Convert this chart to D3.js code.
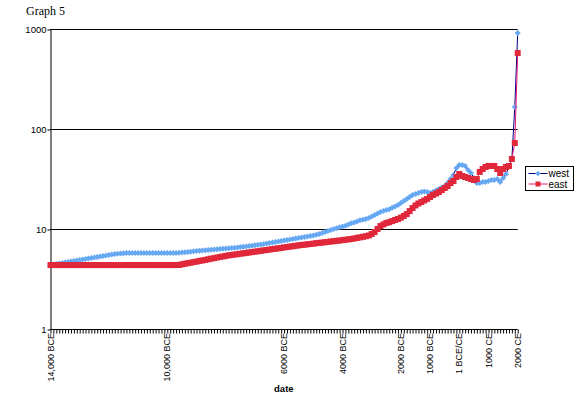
<!DOCTYPE html>
<html>
<head>
<meta charset="utf-8">
<script src="https://cdn.jsdelivr.net/npm/d3@7"></script>
<style>
  body { margin: 0; background: #fff; }
  text { font-family: "Liberation Sans", Arial, sans-serif; }
</style>
</head>
<body>
<div id="chart"></div>
<script>
// categories: one every 100 years, 14,000 BCE .. 2000 CE (0 = "1 BCE/CE")
const dates = d3.range(-14000, 2001, 100);
const labelDates = [-14000, -10000, -6000, -4000, -2000, -1000, 0, 1000, 2000];
const labelTexts = ['14,000 BCE', '10,000 BCE', '6000 BCE', '4000 BCE', '2000 BCE', '1000 BCE', '1 BCE/CE', '1000 CE', '2000 CE'];
const yTicks = [1, 10, 100, 1000];

const west = [
  4.36, 4.42, 4.47, 4.52, 4.57, 4.62, 4.68, 4.73, 4.79, 4.84,
  4.90, 4.95, 5.01, 5.07, 5.13, 5.19, 5.25, 5.31, 5.37, 5.43,
  5.50, 5.56, 5.62, 5.66, 5.70, 5.72, 5.75, 5.75, 5.75, 5.75,
  5.75, 5.75, 5.75, 5.75, 5.75, 5.75, 5.75, 5.75, 5.75, 5.75,
  5.75, 5.75, 5.75, 5.76, 5.78, 5.81, 5.85, 5.89, 5.93, 5.98,
  6.03, 6.06, 6.10, 6.13, 6.17, 6.21, 6.24, 6.28, 6.31, 6.35,
  6.38, 6.42, 6.46, 6.50, 6.55, 6.59, 6.64, 6.68, 6.75, 6.81,
  6.88, 6.95, 7.01, 7.08, 7.16, 7.24, 7.33, 7.41, 7.50, 7.59,
  7.67, 7.76, 7.85, 7.94, 8.04, 8.13, 8.22, 8.32, 8.41, 8.51,
  8.61, 8.75, 8.91, 9.12, 9.33, 9.55, 9.77, 10.0, 10.2, 10.4,
  10.6, 10.8, 11.1, 11.4, 11.6, 11.9, 12.2, 12.4, 12.6, 12.9,
  13.3, 13.8, 14.3, 14.8, 15.1, 15.5, 15.8, 16.3, 16.8, 17.4,
  18.2, 19.1, 20.0, 20.9, 21.9, 22.4, 22.9, 23.4, 23.7, 23.4,
  22.9, 23.4, 24.3, 25.1, 26.0, 26.9, 28.8, 31.6, 34.7, 40.7,
  43.7, 43.7, 42.7, 38.9, 36.3, 32.4, 28.8, 28.8, 29.5, 29.5,
  30.2, 30.9, 30.9, 31.6, 29.5, 32.4, 35.5, 41.7, 50.1, 166,
  912
];

const east = [
  4.36, 4.36, 4.36, 4.36, 4.36, 4.36, 4.36, 4.36, 4.36, 4.36,
  4.36, 4.36, 4.36, 4.36, 4.36, 4.36, 4.36, 4.36, 4.36, 4.36,
  4.36, 4.36, 4.36, 4.36, 4.36, 4.36, 4.36, 4.36, 4.36, 4.36,
  4.36, 4.36, 4.36, 4.36, 4.36, 4.36, 4.36, 4.36, 4.36, 4.36,
  4.36, 4.36, 4.36, 4.36, 4.37, 4.43, 4.49, 4.55, 4.60, 4.67,
  4.72, 4.79, 4.85, 4.91, 4.98, 5.05, 5.11, 5.18, 5.25, 5.31,
  5.38, 5.45, 5.50, 5.55, 5.60, 5.66, 5.71, 5.77, 5.82, 5.88,
  5.93, 5.99, 6.05, 6.11, 6.17, 6.23, 6.29, 6.35, 6.41, 6.47,
  6.54, 6.61, 6.67, 6.73, 6.80, 6.86, 6.92, 6.97, 7.03, 7.08,
  7.14, 7.21, 7.26, 7.31, 7.38, 7.43, 7.50, 7.55, 7.62, 7.67,
  7.74, 7.80, 7.87, 7.94, 8.04, 8.15, 8.24, 8.35, 8.47, 8.61,
  8.91, 9.33, 10.0, 10.7, 11.1, 11.5, 11.7, 12.0, 12.3, 12.6,
  13.0, 13.5, 14.1, 15.1, 16.2, 17.2, 18.0, 18.6, 19.3, 20.0,
  20.9, 21.9, 22.6, 23.4, 24.5, 25.7, 26.9, 28.8, 30.2, 33.1,
  35.5, 33.9, 33.1, 32.4, 31.6, 30.9, 31.6, 37.2, 39.8, 41.7,
  42.7, 42.7, 42.7, 39.8, 36.3, 39.8, 41.7, 42.7, 50.1, 72.4,
  575
];

const series = [
  { name: 'west', values: west, line: '#000080', fill: '#66a8f2', shape: 'diamond' },
  { name: 'east', values: east, line: '#ee1177', fill: '#e0283a', shape: 'square' }
];

const width = 577, height = 395;
const plotLeft = 50, plotRight = 517.7, plotTop = 29, plotBottom = 329;

const svg = d3.select('#chart').append('svg')
  .attr('width', width)
  .attr('height', height);

svg.append('rect')
  .attr('width', width)
  .attr('height', height)
  .attr('fill', '#fff');

const x = d3.scalePoint()
  .domain(dates)
  .range([plotLeft + 0.5, plotRight]);

const y = d3.scaleLog()
  .domain([1, 1000])
  .range([plotBottom, plotTop]);

// title
svg.append('text')
  .attr('x', 26)
  .attr('y', 15)
  .style('font-family', '"Liberation Serif", "Times New Roman", serif')
  .style('font-size', '12px')
  .text('Graph 5');

// gridlines
svg.append('g')
  .selectAll('line')
  .data(yTicks.slice(1))
  .join('line')
  .attr('x1', plotLeft)
  .attr('x2', plotRight)
  .attr('y1', d => Math.round(y(d)) + 0.5)
  .attr('y2', d => Math.round(y(d)) + 0.5)
  .attr('stroke', '#000')
  .attr('stroke-width', 1);

// y axis
const yAxis = svg.append('g')
  .attr('transform', `translate(${plotLeft + 0.5},0.5)`)
  .call(d3.axisLeft(y).tickValues(yTicks).tickFormat(d3.format('d')).tickSize(3).tickSizeOuter(0));
yAxis.select('.domain').attr('stroke', '#000');
yAxis.selectAll('text')
  .style('font-size', '9.5px')
  .style('font-family', '"Liberation Sans", Arial, sans-serif')
  .attr('x', -4);

// x axis: a tick for every category, labels only on a few
const xAxis = svg.append('g')
  .attr('transform', `translate(0,${plotBottom + 0.5})`)
  .call(d3.axisBottom(x).tickFormat('').tickSize(4).tickSizeOuter(0));
xAxis.select('.domain').attr('d', `M${plotLeft},0H${plotRight}`).attr('stroke', '#000');
xAxis.selectAll('.tick line').attr('stroke', '#000');

svg.append('g')
  .selectAll('text')
  .data(labelDates)
  .join('text')
  .attr('transform', d => `translate(${x(d)},${plotBottom + 4}) rotate(-90)`)
  .attr('dy', '0.35em')
  .attr('text-anchor', 'end')
  .style('font-size', '9px')
  .text((d, i) => labelTexts[i]);

svg.append('text')
  .attr('x', (plotLeft + plotRight) / 2)
  .attr('y', 392)
  .attr('text-anchor', 'middle')
  .style('font-size', '9.5px')
  .style('font-weight', 'bold')
  .text('date');

// series
const line = d3.line()
  .x((d, i) => x(dates[i]))
  .y(d => y(d));

const symbols = {
  diamond: d3.symbol(d3.symbolSquare, 18),
  square: d3.symbol(d3.symbolSquare, 36)
};

series.forEach(s => {
  const g = svg.append('g');
  g.append('path')
    .datum(s.values)
    .attr('fill', 'none')
    .attr('stroke', s.line)
    .attr('stroke-width', 1)
    .attr('d', line);
  g.selectAll('path.marker')
    .data(s.values)
    .join('path')
    .attr('class', 'marker')
    .attr('transform', (d, i) => `translate(${x(dates[i])},${y(d)})` + (s.shape === 'diamond' ? ' rotate(45)' : ''))
    .attr('d', symbols[s.shape])
    .attr('fill', s.fill);
});

// legend
const legend = svg.append('g').attr('transform', 'translate(525.5,166.5)');
legend.append('rect')
  .attr('width', 48)
  .attr('height', 24)
  .attr('fill', '#fff')
  .attr('stroke', '#000');

const item = legend.selectAll('g.item')
  .data(series)
  .join('g')
  .attr('class', 'item')
  .attr('transform', (d, i) => `translate(0,${7 + i * 10.5})`);
item.append('line')
  .attr('x1', 3)
  .attr('x2', 22)
  .attr('stroke', d => d.line);
item.append('path')
  .attr('transform', d => 'translate(12.5,0)' + (d.shape === 'diamond' ? ' rotate(45)' : ''))
  .attr('d', d => d3.symbol(d3.symbolSquare, d.shape === 'diamond' ? 14 : 25)())
  .attr('fill', d => d.fill);
item.append('text')
  .attr('x', 23)
  .attr('dy', '0.35em')
  .style('font-size', '10px')
  .text(d => d.name);
</script>
</body>
</html>
